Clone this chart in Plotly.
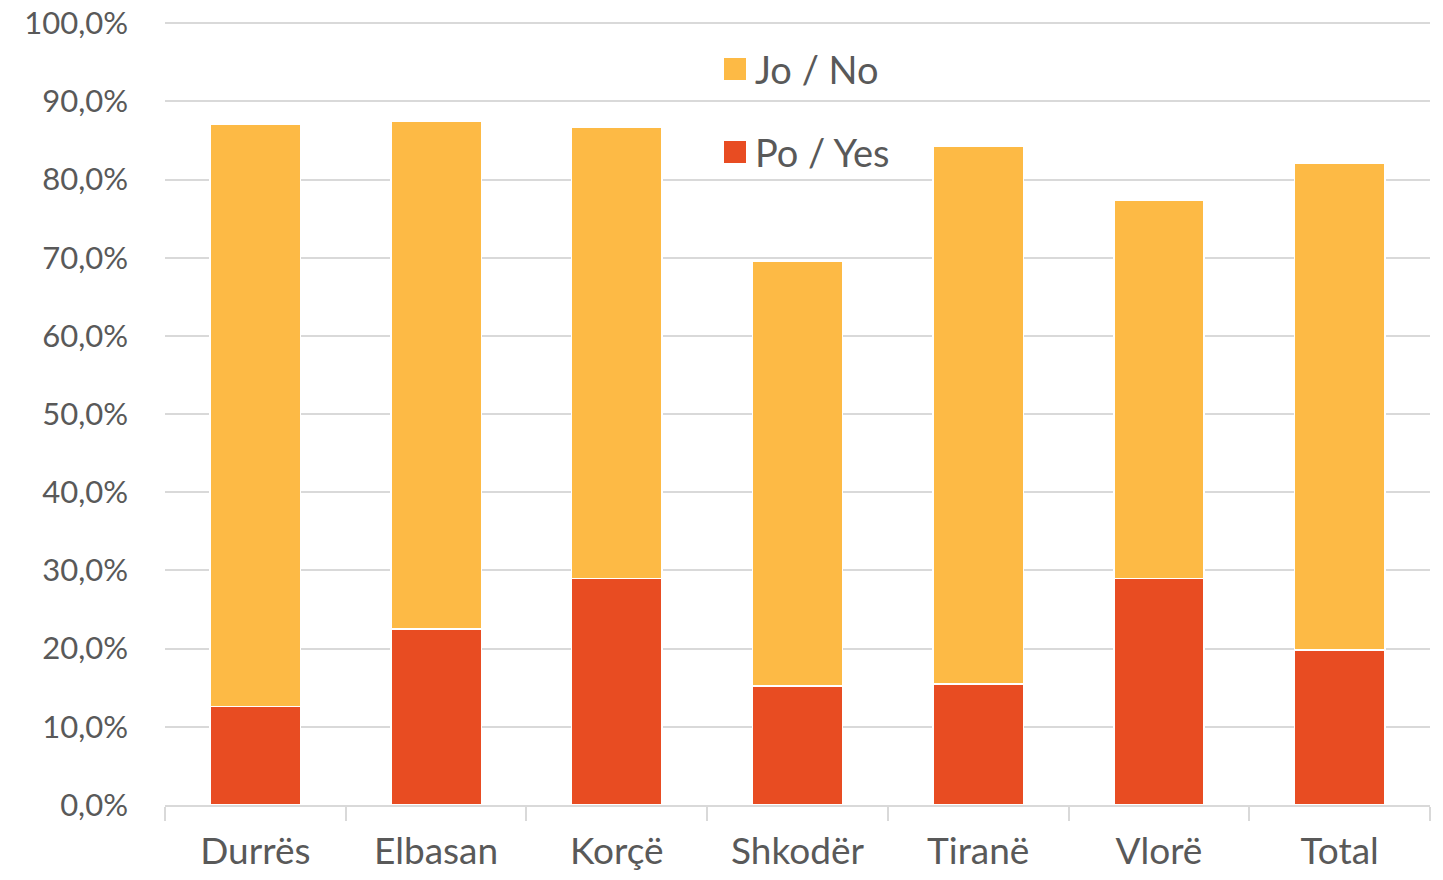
import plotly.graph_objects as go

categories = ["Durrës", "Elbasan", "Korçë", "Shkodër", "Tiranë", "Vlorë", "Total"]
po_yes = [12.6, 22.5, 29.0, 15.2, 15.5, 29.0, 19.8]
jo_no = [74.5, 64.9, 57.7, 54.3, 68.8, 48.3, 62.3]
y_ticks = [0, 10, 20, 30, 40, 50, 60, 70, 80, 90, 100]
y_tick_labels = ["0,0%", "10,0%", "20,0%", "30,0%", "40,0%", "50,0%",
                 "60,0%", "70,0%", "80,0%", "90,0%", "100,0%"]
series_names = ["Jo / No", "Po / Yes"]
series_colors = ["#FDBA45", "#E84C22"]

FONT = "Lato, Calibri, Carlito, sans-serif"
TXT = "#595959"

# page body has an 8px margin; size the figure so that the visible layout matches
OFF = 8
W, H = 1443 - 2 * OFF, 880 - 2 * OFF
ml = 165 - OFF
mt = 22 - OFF
mr = W + OFF - 1430
mb = H + OFF - 805
pw, ph = W - ml - mr, H - mt - mb

fig = go.Figure()
fig.add_trace(go.Bar(
    x=categories, y=po_yes, name=series_names[1],
    marker=dict(color=series_colors[1], line=dict(color="white", width=1.5)),
))
fig.add_trace(go.Bar(
    x=categories, y=jo_no, name=series_names[0],
    marker=dict(color=series_colors[0], line=dict(color="white", width=1.5)),
))

def px_x(x):
    return (x - OFF - ml) / pw
def px_y(y):
    return 1 - (y - OFF - mt) / ph

legend_rows = [69, 152]
for name, color, yc in zip(series_names, series_colors, legend_rows):
    fig.add_shape(type="rect", xref="paper", yref="paper",
                  x0=px_x(724), x1=px_x(746), y0=px_y(yc + 11), y1=px_y(yc - 11),
                  fillcolor=color, line=dict(width=0))
    fig.add_annotation(xref="paper", yref="paper", x=px_x(753), y=px_y(yc),
                       xanchor="left", yanchor="middle", showarrow=False,
                       text=name, font=dict(size=38, family=FONT, color=TXT))

fig.update_layout(
    barmode="stack",
    bargap=0.5,
    width=W, height=H,
    margin=dict(l=ml, r=mr, t=mt, b=mb),
    plot_bgcolor="white", paper_bgcolor="white",
    font=dict(family=FONT, color=TXT),
    showlegend=False,
)
fig.update_xaxes(
    automargin=False,
    showgrid=False, showline=True, linecolor="#d9d9d9", linewidth=2,
    ticks="outside", tickson="boundaries", ticklen=14, tickcolor="#d9d9d9", tickwidth=2,
    ticklabelstandoff=13, ticklabeloverflow="allow",
    tickfont=dict(size=37, family=FONT, color=TXT),
)
fig.update_yaxes(
    automargin=False,
    range=[0, 100.15], tickvals=y_ticks, ticktext=y_tick_labels,
    showgrid=True, gridcolor="#d9d9d9", gridwidth=2, zeroline=False,
    showline=False, ticks="", ticklabelstandoff=36, ticklabeloverflow="allow",
    tickfont=dict(size=31, family=FONT, color=TXT),
)

fig.write_html("out.html")
